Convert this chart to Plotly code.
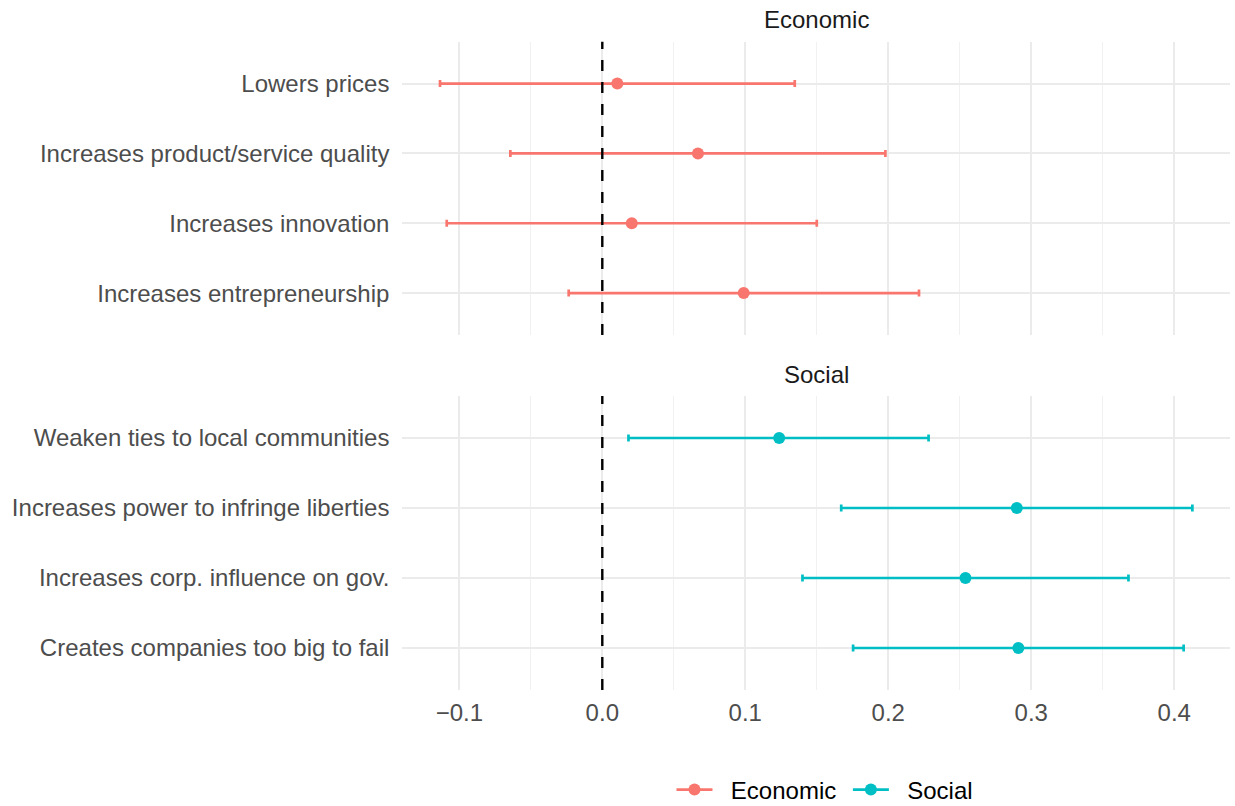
import plotly.graph_objects as go

# Effect estimates with 95% intervals, listed top-to-bottom within each panel
econ_items = [
    "Lowers prices",
    "Increases product/service quality",
    "Increases innovation",
    "Increases entrepreneurship",
]
econ_est = [0.0105, 0.0669, 0.0206, 0.0989]
econ_lo = [-0.1135, -0.0643, -0.1088, -0.0235]
econ_hi = [0.1346, 0.1980, 0.1500, 0.2215]

soc_items = [
    "Weaken ties to local communities",
    "Increases power to infringe liberties",
    "Increases corp. influence on gov.",
    "Creates companies too big to fail",
]
soc_est = [0.1237, 0.2899, 0.2540, 0.2910]
soc_lo = [0.0183, 0.1671, 0.1400, 0.1754]
soc_hi = [0.2282, 0.4127, 0.3680, 0.4066]

panels = ["Economic", "Social"]
x_ticks = [-0.1, 0.0, 0.1, 0.2, 0.3, 0.4]
x_tick_text = ["\u22120.1", "0.0", "0.1", "0.2", "0.3", "0.4"]

COLORS = {"Economic": "#F8766D", "Social": "#00BFC4"}
FONT = "Liberation Sans, Arial, sans-serif"
FS = 24
W, H = 1235, 806

# x range padded 5% on each side of the data span
all_lo = min(econ_lo + soc_lo)
all_hi = max(econ_hi + soc_hi)
pad = 0.05 * (all_hi - all_lo)
x_range = [all_lo - pad, all_hi + pad]

# panel placement in pixels
px_left, px_right = 402.4, 1230.0
panel_px = {"Economic": (41.7, 335.0), "Social": (396.0, 690.0)}


def ydom(top, bot):
    return [1 - bot / H, 1 - top / H]


fig = go.Figure()

data = {
    "Economic": (econ_items, econ_est, econ_lo, econ_hi, "y"),
    "Social": (soc_items, soc_est, soc_lo, soc_hi, "y2"),
}

for name, (items, est, lo, hi, yref) in data.items():
    fig.add_trace(go.Scatter(
        x=est, y=items, mode="markers",
        marker=dict(color=COLORS[name], size=12),
        error_x=dict(
            type="data", symmetric=False,
            array=[h - e for h, e in zip(hi, est)],
            arrayminus=[e - l for e, l in zip(est, lo)],
            color=COLORS[name], thickness=2.7, width=3.5,
        ),
        xaxis="x" if yref == "y" else "x2", yaxis=yref,
        showlegend=False, hoverinfo="skip",
    ))

# legend keys (line through a point)
legend_labels = {"Economic": "\u00a0\u00a0Economic\u00a0", "Social": "\u00a0\u00a0Social"}
for name in panels:
    fig.add_trace(go.Scatter(
        x=[None], y=[None], mode="lines+markers", name=legend_labels[name],
        line=dict(color=COLORS[name], width=2.7),
        marker=dict(color=COLORS[name], size=12),
        xaxis="x2", yaxis="y2",
    ))

xdom = [px_left / W, px_right / W]
grid_major = "#EBEBEB"

axis_x_common = dict(
    range=x_range, domain=xdom, tickmode="array", tickvals=x_ticks,
    ticktext=x_tick_text, showgrid=True, gridcolor=grid_major, gridwidth=2.2,
    zeroline=False, showline=False, ticks="", automargin=False,
    minor=dict(showgrid=True, gridcolor="#F1F1F1", gridwidth=1.1,
               tickmode="array",
               tickvals=[-0.15, -0.05, 0.05, 0.15, 0.25, 0.35]),
    tickfont=dict(family=FONT, size=FS, color="#4D4D4D"),
)

axis_y_common = dict(
    type="category", range=[-0.6, 3.6], showgrid=True, gridcolor=grid_major,
    gridwidth=2.4, zeroline=False, showline=False, ticks="",
    ticklabelstandoff=12, automargin=False,
    tickfont=dict(family=FONT, size=FS, color="#4D4D4D"),
)

fig.update_layout(
    width=W, height=H,
    margin=dict(l=0, r=0, t=0, b=0, autoexpand=False),
    paper_bgcolor="white", plot_bgcolor="white",
    xaxis=dict(axis_x_common, anchor="y", showticklabels=False),
    xaxis2=dict(axis_x_common, anchor="y2", ticklabelstandoff=6),
    yaxis=dict(axis_y_common, domain=ydom(*panel_px["Economic"]), anchor="x",
               categoryorder="array", categoryarray=econ_items[::-1]),
    yaxis2=dict(axis_y_common, domain=ydom(*panel_px["Social"]), anchor="x2",
                categoryorder="array", categoryarray=soc_items[::-1]),
    showlegend=True,
    legend=dict(
        orientation="h", x=825 / W, xanchor="center",
        y=1 - 790 / H, yanchor="middle",
        font=dict(family=FONT, size=FS, color="#000000"),
        bgcolor="rgba(0,0,0,0)", itemwidth=36,
    ),
)

# reference line at zero in each panel
for xr, yr in [("x", "y"), ("x2", "y2")]:
    fig.add_shape(
        type="line", xref=xr, yref=f"{yr} domain",
        x0=0, x1=0, y0=0, y1=1,
        line=dict(color="black", width=2.4, dash="11px,11px"),
        layer="above",
    )

# panel strip titles
for name in panels:
    top, _ = panel_px[name]
    fig.add_annotation(
        text=name, xref="paper", yref="paper",
        x=(px_left + px_right) / 2 / W, y=1 - (top - 22) / H,
        xanchor="center", yanchor="middle", showarrow=False,
        font=dict(family=FONT, size=FS, color="#1A1A1A"),
    )

fig.write_html("out.html")
